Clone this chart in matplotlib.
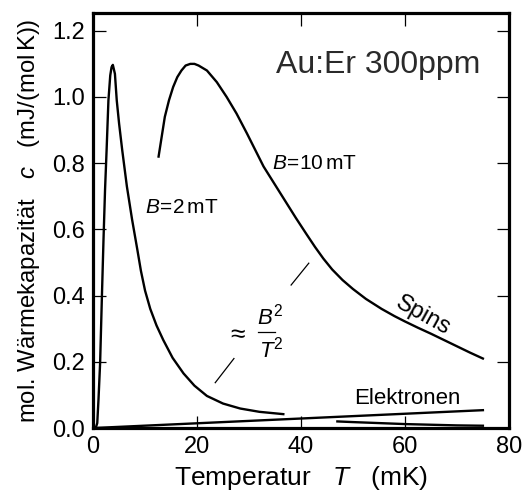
import numpy as np
import matplotlib
matplotlib.use("Agg")
from matplotlib import pyplot as plt

plt.rcParams['font.family'] = ['Liberation Sans', 'DejaVu Sans']
plt.rcParams['mathtext.fontset'] = 'custom'
plt.rcParams['mathtext.rm'] = 'Liberation Sans'
plt.rcParams['mathtext.it'] = 'Liberation Sans:italic'

# spin heat capacity, B = 2 mT (mK, mJ/(mol K))
t_b2 = [0.5, 0.8, 1.05, 1.35, 1.7, 2.0, 2.3, 2.6, 2.95, 3.3, 3.55, 3.8,
        4.2, 4.55, 5.0, 5.6, 6.5, 7.5, 8.5, 9.2, 10.0, 11.0, 12.2, 13.5,
        15.3, 17.4, 19.5, 21.9, 25.0, 28.3, 32.0, 36.6]
c_b2 = [0.0, 0.015, 0.09, 0.196, 0.40, 0.568, 0.72, 0.84, 0.99, 1.065,
        1.09, 1.097, 1.07, 0.99, 0.92, 0.84, 0.73, 0.63, 0.54, 0.475, 0.415,
        0.36, 0.31, 0.266, 0.212, 0.165, 0.128, 0.097, 0.074, 0.059, 0.049,
        0.042]
# tail of the B = 2 mT curve, behind the electron line
t_b2_tail = [47, 50, 55, 60, 65, 70, 75]
c_b2_tail = [0.02, 0.018, 0.015, 0.012, 0.01, 0.008, 0.007]

# spin heat capacity, B = 10 mT
t_b10 = [12.6, 13.2, 13.8, 14.6, 15.4, 16.2, 17.0, 17.8, 18.7, 19.5, 20.3,
         21.9, 23.8, 25.7, 27.6, 29.6, 31.2, 32.8, 35.0, 37.0, 39.0, 41.0,
         42.7, 44.3, 46.0, 48.0, 50.0, 52.5, 55.5, 58.0, 60.0, 62.5, 65.0,
         67.5, 70.0, 72.5, 75.0]
c_b10 = [0.82, 0.88, 0.94, 0.99, 1.03, 1.06, 1.08, 1.095, 1.10, 1.10, 1.095,
         1.08, 1.045, 1.0, 0.95, 0.89, 0.84, 0.79, 0.735, 0.685, 0.635,
         0.587, 0.547, 0.512, 0.479, 0.447, 0.42, 0.39, 0.36, 0.338, 0.322,
         0.303, 0.285, 0.266, 0.247, 0.228, 0.21]

# electron contribution
t_el = [0, 75]
c_el = [0.0, 0.054]

# B^2/T^2 guide strokes
guide_t = [[23.5, 27.1], [38.1, 41.5]]
guide_c = [[0.137, 0.21], [0.432, 0.498]]

fig = plt.figure(figsize=(5.23, 4.96), dpi=100)
ax = fig.add_axes([0.178, 0.137, 0.795, 0.837])

lw = 1.7
ax.plot(t_b2, c_b2, color='black', lw=lw)
ax.plot(t_b2_tail, c_b2_tail, color='black', lw=lw)
ax.plot(t_b10, c_b10, color='black', lw=lw)
ax.plot(t_el, c_el, color='black', lw=lw)
for gt, gc in zip(guide_t, guide_c):
    ax.plot(gt, gc, color='black', lw=0.9)

ax.set_xlim(0, 80)
ax.set_ylim(0, 1.254)
ax.set_xticks([0, 20, 40, 60, 80])
ax.set_yticks([0.0, 0.2, 0.4, 0.6, 0.8, 1.0, 1.2])
ax.set_yticklabels(['0.0', '0.2', '0.4', '0.6', '0.8', '1.0', '1.2'])
ax.tick_params(direction='in', length=9, width=0.9, top=True, right=True,
               labelsize=17, pad=6)
for s in ax.spines.values():
    s.set_linewidth(2.3)

ax.set_xlabel(r'Temperatur   $T$   (mK)', fontsize=19, labelpad=4)
ax.set_ylabel(r'mol. Wärmekapazität   $c$   (mJ/(mol$\,$K))', fontsize=17.2,
              labelpad=7)

ax.text(54.8, 1.097, 'Au:Er 300ppm', fontsize=23, color='#2a2a2a',
        ha='center', va='center')
ax.text(34.4, 0.80, r'$B\!=\!10\,\mathrm{mT}$', fontsize=15, ha='left',
        va='center')
ax.text(10.0, 0.665, r'$B\!=\!2\,\mathrm{mT}$', fontsize=15, ha='left',
        va='center')
ax.text(63.5, 0.34, 'Spins', fontsize=17, rotation=-29, ha='center',
        va='center')
ax.text(60.4, 0.09, 'Elektronen', fontsize=16, ha='center', va='center')

ax.text(27.6, 0.288, r'$\approx$', fontsize=19, ha='center', va='center')
ax.text(34.0, 0.338, r'$B^2$', fontsize=16, ha='center', va='center')
ax.text(34.3, 0.236, r'$T^2$', fontsize=16, ha='center', va='center')
ax.plot([31.8, 35.0], [0.289, 0.289], color='black', lw=0.9)

fig.savefig('out.png', dpi=100)
